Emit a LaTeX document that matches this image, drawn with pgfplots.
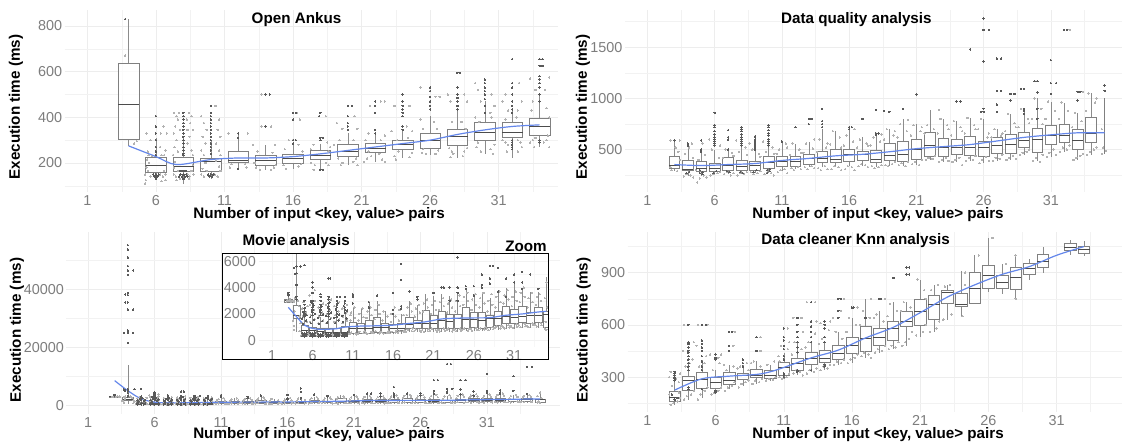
\documentclass[border=0pt]{standalone}
\usepackage{fontspec}
\setmainfont{Liberation Sans}
\usepackage{pgfplots}
\usepackage{pgfplotstable}
\pgfplotsset{compat=1.18}
\usepgfplotslibrary{statistics}
\definecolor{smoothc}{RGB}{100,135,235}
\definecolor{tickc}{RGB}{125,125,125}
\newcommand\bx[6]{\addplot[boxst,boxplot prepared={draw direction=y,draw position=#1,lower whisker=#2,lower quartile=#3,median=#4,upper quartile=#5,upper whisker=#6}] coordinates {};}
\pgfplotsset{
 boxst/.style={draw=black!50,line width=.5pt},
 panel/.style={scale only axis,grid=both,every axis title shift=0pt,
  major grid style={black!7,line width=.5pt},minor grid style={black!5,line width=.4pt},
  axis line style={draw=none},tick style={draw=none},
  xtick={1,6,11,16,21,26,31},minor xtick={3.5,8.5,13.5,18.5,23.5,28.5,33.5},
  tick label style={font=\fontsize{14.4}{15}\selectfont,text=tickc},
  /pgf/number format/assume math mode=true,/pgf/number format/1000 sep={},
  scaled y ticks=false,
  xticklabel style={yshift=0pt},yticklabel style={xshift=1pt},
  boxplot/whisker extend=0,
  boxplot/every box/.style={draw=black!50,fill=white,fill opacity=.75},
  boxplot/every whisker/.style={draw=black!45},
  boxplot/every median/.style={draw=black!70,line width=.75pt},
  xlabel={Number of input <key, value> pairs},ylabel={Execution time (ms)},
  label style={font=\fontsize{15.2}{16}\bfseries\selectfont,text=black},
  title style={font=\fontsize{15.2}{16}\bfseries\selectfont,text=black}},
 lt/.style={only marks,color=black!30,mark=*,mark size=.7pt,mark options={solid,line width=0pt}},
 dk/.style={only marks,color=black!65,mark=*,mark size=.7pt,mark options={solid,line width=0pt}},
 sm/.style={smooth,smoothc,line width=1.2pt}
}
\pgfplotstableread[row sep=\\]{x y\\
3.7 2950\\3.8 3100\\2.8 2950\\3.1 3000\\3.3 2900\\2.9 3050\\3.2 3150\\3.4 3000\\
3.6 1500\\3.7 1100\\3.8 2200\\4.3 2600\\4.4 1800\\4.5 1300\\3.7 800\\4.4 700\\4.2 3000\\3.8 3200\\
4.6 400\\4.8 500\\5.2 450\\5.4 550\\4.7 1300\\5.3 1400\\4.8 1800\\5.2 2100\\4.7 2400\\5.4 2600\\5 300\\5.3 350\\4.6 350\\5.4 400\\4.9 2900\\
5.6 420\\5.8 380\\6.3 450\\6.4 520\\5.7 1400\\6.3 1600\\5.8 1900\\6.2 2300\\5.7 2700\\6.3 3000\\6.4 330\\6.2 370\\5.9 340\\5.6 3400\\6.3 3800\\
6.6 350\\6.8 420\\7.2 380\\7.4 500\\6.7 1300\\7.3 1500\\6.8 1800\\7.2 2100\\6.7 2500\\7.3 2800\\7.1 340\\6.9 310\\7.4 410\\
7.6 400\\7.8 460\\8.3 380\\8.4 340\\7.7 1300\\8.3 1700\\7.8 2000\\8.2 2300\\7.7 2700\\8.3 3100\\8.1 330\\7.9 360\\8.4 520\\
8.6 370\\8.8 420\\9.3 360\\9.4 480\\8.7 1400\\9.3 1600\\8.8 1900\\9.2 2200\\8.7 2600\\9.3 2900\\9.1 330\\8.9 350\\9.4 410\\
9.6 420\\9.8 370\\10.3 390\\10.4 500\\9.7 1300\\10.3 1500\\9.8 1800\\10.2 2100\\9.7 2400\\10.3 2700\\10.1 350\\9.9 330\\
10.6 500\\10.8 600\\11.3 520\\11.4 450\\10.7 1500\\11.3 1700\\10.8 2100\\11.2 2500\\10.7 1900\\
11.6 500\\11.8 650\\12.3 540\\12.4 700\\11.7 1500\\12.3 1750\\11.8 2000\\12.2 2400\\
12.6 600\\12.8 500\\13.3 650\\13.4 550\\12.7 1700\\13.3 1900\\12.8 2200\\13.2 2500\\
13.6 550\\13.8 700\\14.3 520\\14.4 640\\13.7 1600\\14.3 2000\\13.8 2300\\14.2 2700\\
14.6 620\\14.8 500\\15.3 560\\15.4 700\\14.7 1500\\15.3 1800\\14.8 2200\\
15.6 540\\15.8 650\\16.3 580\\16.4 720\\15.7 1400\\16.3 1800\\15.8 2000\\16.2 2500\\
16.6 600\\16.8 700\\17.3 640\\17.4 760\\16.7 1500\\17.3 1900\\16.8 2300\\
17.6 650\\17.8 800\\18.3 700\\18.4 900\\17.7 1900\\18.3 2200\\17.8 2500\\18.2 2800\\
18.6 700\\18.8 820\\19.3 760\\19.4 640\\18.7 1800\\19.3 2100\\18.8 2400\\19.2 2700\\
19.6 780\\19.8 650\\20.3 700\\20.4 850\\19.7 2200\\20.3 2500\\19.8 2800\\20.2 3100\\
20.6 720\\20.8 880\\21.3 780\\21.4 650\\20.7 2000\\21.3 2300\\20.8 2700\\21.2 3000\\
21.6 800\\21.8 680\\22.3 900\\22.4 740\\21.7 2300\\22.3 2600\\21.8 2900\\22.2 3200\\
22.6 760\\22.8 880\\23.3 680\\23.4 800\\22.7 2100\\23.3 2500\\22.8 2800\\23.2 3100\\
23.6 820\\23.8 700\\24.3 900\\24.4 740\\23.7 2200\\24.3 2600\\23.8 3000\\24.2 3400\\
24.6 800\\24.8 900\\25.3 720\\25.4 850\\24.7 2700\\25.3 3000\\24.8 3300\\25.2 3600\\
25.6 860\\25.8 720\\26.3 950\\26.4 800\\25.7 2300\\26.3 2700\\25.8 3100\\26.2 3500\\
26.6 760\\26.8 900\\27.3 820\\27.4 1000\\26.7 2500\\27.3 2800\\26.8 3200\\27.2 3600\\
27.6 900\\27.8 780\\28.3 1000\\28.4 840\\27.7 2200\\28.3 2700\\27.8 3000\\28.2 3500\\
28.6 940\\28.8 1050\\29.3 880\\29.4 1100\\28.7 2500\\29.3 2900\\28.8 3300\\29.2 3700\\
29.6 1050\\29.8 900\\30.3 1150\\30.4 980\\29.7 2800\\30.3 3100\\29.8 3400\\30.2 3800\\
30.6 1100\\30.8 950\\31.3 1200\\31.4 1020\\30.7 2600\\31.3 3000\\30.8 3300\\31.2 3700\\
31.6 1150\\31.8 1000\\32.3 1250\\32.4 1080\\31.7 2900\\32.3 3300\\31.8 3600\\32.2 4000\\
32.6 1100\\32.8 1000\\33.3 1280\\33.4 1150\\32.7 2500\\33.3 2900\\32.8 3200\\33.2 3600\\
33.6 1200\\33.8 1050\\34.3 1300\\34.4 1150\\33.7 2700\\34.3 3000\\33.8 3300\\34.2 3500\\
34.8 900\\35 800\\34.9 1400\\35.1 2500\\34.8 3200\\35 4400\\
}\movieL
\pgfplotstableread[row sep=\\]{x y\\
3 3600\\3 3500\\3 3400\\
4 55200\\4 53700\\4 51000\\4 48000\\4 46500\\4 45000\\4.4 46500\\3.8 38200\\4 38800\\4 38000\\4 35500\\3.8 35500\\4 33000\\4.4 33000\\4 25800\\4 25000\\4.4 25000\\3.7 25000\\4 21500\\
4 5600\\3.7 5500\\4 5100\\3.8 5050\\4.5 5600\\4 4200\\4 3300\\4 3100\\
5 5700\\5 3000\\5 2700\\5 2400\\5 2200\\5 2000\\5 1900\\5 1800\\
5 300\\5 400\\5 450\\5 500\\5 550\\4.7 320\\5.2 330\\4.8 430\\5.3 460\\4.7 550\\5.3 620\\
4.8 1250\\5.2 1500\\4.7 1650\\5.3 1900\\4.9 2150\\5.1 2450\\
6 4400\\6 4000\\6 3600\\6 3000\\6 2800\\6 2500\\6 2300\\6 2100\\6 1900\\
6 300\\6 380\\6 450\\6 520\\5.7 320\\6.3 340\\5.8 420\\6.2 470\\5.7 550\\6.3 600\\
5.8 1300\\6.2 1550\\5.7 1750\\6.3 2000\\5.9 2250\\6.1 2650\\5.8 2950\\
7 3500\\7 3300\\7 3000\\7 2700\\7 2500\\7 2300\\7 2100\\7 1900\\
7 280\\7 340\\7 400\\7 460\\6.7 300\\7.3 330\\6.8 390\\7.2 430\\6.7 500\\7.3 560\\
6.8 1250\\7.2 1450\\6.7 1700\\7.3 1950\\6.9 2200\\7.1 2600\\
8 4700\\8.2 4700\\8 3300\\8 3100\\8 2800\\8 2600\\8 2400\\8 2200\\8 2000\\8 1800\\
8 280\\8 350\\8 410\\8 470\\7.7 300\\8.3 320\\7.8 380\\8.2 420\\7.7 500\\8.3 570\\
7.8 1350\\8.2 1600\\7.7 1850\\8.3 2100\\7.9 2500\\8.1 2900\\
9 3300\\9 3000\\9 2700\\9 2500\\9 2200\\9 2000\\9 1800\\9.4 3300\\
9 290\\9 360\\9 420\\9 480\\8.7 310\\9.3 330\\8.8 400\\9.2 440\\8.7 510\\9.3 560\\
8.8 1300\\9.2 1500\\8.7 1700\\9.3 1950\\8.9 2350\\9.1 2800\\
10 3300\\10 3000\\10 2800\\10 2500\\10 2300\\10 2100\\
10 300\\10 370\\10 430\\10 500\\9.7 330\\10.3 350\\9.8 410\\10.2 460\\9.7 520\\10.3 580\\
9.8 1400\\10.2 1650\\9.7 1850\\10.3 2250\\9.9 2600\\
11 3500\\11 3400\\11 3300\\11 2800\\13 2900\\13 2500\\14 3400\\16 3600\\16 2300\\16 2000\\
17 5800\\17 4600\\17 2600\\17 2400\\18 3700\\19 3300\\19 3100\\21 3600\\22 4000\\22.3 4000\\23 4000\\23 3000\\
24 6300\\24 4000\\24 3600\\24 3000\\25 4100\\25 3900\\26 4100\\26 3400\\27 8700\\27.3 8700\\27 5000\\27 4200\\27 4000\\
28 14200\\28.3 14200\\28 5650\\28.4 5650\\28 4700\\28 4300\\29 8700\\29.4 8700\\29 3700\\29 5500\\
30 4700\\30 3300\\31 10800\\31 5000\\31 4400\\32 5200\\32 4400\\32 3900\\33 10000\\33 5000\\34 13300\\34.4 13300\\34 3900\\
}\movieD
\newcommand\movieboxes{%
\bx{3}{2800}{2900}{3000}{3100}{3600}
\bx{4}{600}{1650}{1900}{2650}{13800}
\bx{5}{350}{557}{760}{1140}{2000}
\bx{6}{350}{506}{760}{1010}{1900}
\bx{7}{320}{430}{680}{940}{1800}
\bx{8}{320}{430}{630}{940}{1800}
\bx{9}{320}{430}{630}{940}{1800}
\bx{10}{330}{506}{630}{1090}{2000}
\bx{11}{400}{560}{940}{1390}{2500}
\bx{12}{450}{560}{890}{1320}{2400}
\bx{13}{450}{560}{890}{1520}{2800}
\bx{14}{450}{630}{1010}{1770}{3000}
\bx{15}{450}{630}{1010}{1270}{2200}
\bx{16}{450}{630}{940}{1190}{1900}
\bx{17}{500}{760}{940}{1270}{2000}
\bx{18}{600}{890}{1190}{1770}{3000}
\bx{19}{600}{890}{1270}{1520}{2700}
\bx{20}{600}{890}{1320}{2280}{3500}
\bx{21}{600}{890}{1270}{1900}{3400}
\bx{22}{650}{940}{1520}{2200}{3500}
\bx{23}{650}{940}{1440}{1950}{3400}
\bx{24}{650}{890}{1650}{1950}{3500}
\bx{25}{700}{890}{1600}{2530}{3800}
\bx{26}{700}{1010}{1600}{2100}{3400}
\bx{27}{700}{940}{1520}{2150}{3700}
\bx{28}{750}{1010}{1650}{1900}{3200}
\bx{29}{800}{1140}{1650}{2200}{3600}
\bx{30}{850}{1270}{1850}{2580}{4000}
\bx{31}{850}{1270}{1770}{2330}{4300}
\bx{32}{900}{1390}{1820}{2600}{3800}
\bx{33}{900}{1270}{1900}{2150}{3700}
\bx{34}{950}{1400}{1900}{2500}{3700}
\bx{35}{900}{1000}{2000}{2200}{4800}
}
\begin{document}
\begin{tikzpicture}
\path[use as bounding box] (0pt,0pt) rectangle (1126pt,444pt);
% ---------- Open Ankus
\begin{axis}[panel,at={(64.6pt,252pt)},width=493.4pt,height=182pt,
 xmin=-.67,xmax=35.34,ymin=73,ymax=870,ytick={200,400,600,800},minor ytick={100,300,500,700},
 boxplot/box extend=1.5,title={Open Ankus},
 title style={at={(axis description cs:.47,.95)},anchor=center},
 xlabel style={at={(axis description cs:.5156,-.125)},anchor=center},
 ylabel style={at={(axis description cs:-.0985,.467)},anchor=center}]
\addplot[lt] coordinates {(3.75,670)(4.6,295)(4.4,285)
(5.2,150)(5.4,165)(5.6,140)(5.3,180)(5.5,200)(5.25,125)(5.7,230)(5.45,235)(6.4,235)(6.6,235)(6.7,255)(6.3,270)(5.6,300)(6.35,330)(6.55,360)(5.4,250)(5.35,215)(6.7,150)(6.5,140)(6.3,150)(6.6,165)(6.7,125)(5.2,110)(6.4,120)(5.3,330)(6.8,330)
(7.3,420)(7.5,405)(7.6,390)(7.4,360)(7.3,330)(7.5,300)(7.35,270)(7.6,250)(7.25,235)(8.4,420)(8.6,405)(8.5,375)(8.7,345)(8.45,315)(8.3,285)(8.6,255)(8.7,235)(7.3,150)(7.45,140)(7.6,165)(7.75,130)(8.3,150)(8.45,140)(8.6,165)(8.75,150)(7.5,125)(8.4,130)(7.3,180)(8.7,190)(7.4,205)(7.7,420)(7.75,345)(8.25,390)(8.3,345)
(9.3,405)(9.5,375)(9.7,345)(9.4,315)(9.6,285)(9.3,255)(9.5,235)(10.35,450)(10.6,390)(10.5,345)(10.7,315)(10.4,285)(10.6,255)(10.7,235)(9.3,150)(9.5,140)(9.7,165)(10.3,150)(10.5,140)(10.7,165)(9.4,175)(10.6,185)(9.6,200)(10.4,210)
(11.3,330)(12.7,330)(11.4,180)(11.5,195)(12.5,195)(12.6,180)
(13.1,280)(13.7,500)(14.4,360)(14.7,280)(13.4,250)(14.5,245)(13.3,180)(13.6,170)(14.4,170)(14.6,180)(13.7,360)(13.2,200)(14.75,190)
(15.4,260)(15.7,300)(16.5,390)(16.4,280)(16.7,250)(15.3,190)(15.5,175)(16.4,185)(16.6,195)(16.3,420)
(17.3,260)(17.5,280)(18.5,290)(18.7,270)(18.4,405)(18.6,250)(17.3,200)(17.6,190)(18.4,200)(18.6,190)(17.5,170)(19,280)
(19.2,375)(19.6,350)(20.5,405)(20.7,350)(19.4,300)(20.4,300)(19.3,220)(19.6,200)(20.4,205)(20.6,220)(19.5,190)(20.7,190)
(21.3,300)(21.5,330)(22.4,470)(22.7,470)(21.6,450)(22.4,300)(22.7,320)(21.4,220)(21.7,230)(22.5,215)(22.3,240)(21.2,205)(22.7,205)(21.5,250)
(23.2,340)(23.4,450)(23.6,300)(24.4,310)(24.7,340)(24.5,450)(24.3,360)(23.4,230)(23.7,250)(24.5,225)(24.7,245)(23.5,215)
(25.3,390)(25.5,350)(26.4,490)(26.7,490)(25.3,530)(26.5,350)(26.3,380)(25.4,245)(25.7,240)(26.4,240)(26.6,255)(25.5,260)
(27.3,500)(27.5,470)(27.6,380)(28.5,500)(28.7,470)(28.3,380)(28.6,350)(27.4,265)(27.6,250)(28.5,250)(28.7,265)(27.5,225)(27.7,240)(28.4,230)
(29.3,550)(29.5,520)(29.7,470)(30.5,500)(30.7,450)(30.4,420)(29.3,400)(29.6,380)(30.5,400)(29.4,270)(29.7,250)(30.4,260)(30.6,240)(29.5,290)(30.7,280)
(31.3,470)(31.5,500)(31.7,430)(32.5,550)(32.7,470)(32.4,430)(32.3,400)(31.5,390)(31.3,300)(31.5,290)(31.7,280)(32.4,300)(32.6,290)(32.7,270)(31.6,250)(32.4,250)
(33.3,570)(33.5,470)(33.7,520)(34.4,520)(34.7,575)(34.5,440)(34.7,400)(33.4,430)(33.5,300)(33.3,290)(33.6,270)(34.3,290)(34.5,300)(34.7,270)(33.7,310)(34.6,320)};
\addplot[dk] coordinates {(3.75,830)(6,405)(6,360)(6,330)(6,300)(6,270)(6,250)(6,235)(5.8,150)(6,150)(6.2,150)(5.9,140)(6.1,140)(6,130)
(8,420)(8,405)(8,390)(8,375)(8,360)(8,345)(8,330)(8,315)(8,300)(8,285)(8,270)(8,255)(8,240)(8,235)(7.8,150)(8,150)(8.2,150)(7.7,140)(7.9,140)(8.1,140)(8.3,140)(8,130)(7.8,165)(8,165)(8.2,165)
(10,450)(10,420)(10,405)(10,390)(10,375)(10,360)(10,345)(10,330)(10,315)(10,300)(10,285)(10,270)(10,255)(10,240)(9.8,150)(10,150)(10.2,150)(9.9,140)(10.1,140)
(12,330)(12,310)(12,175)(14,500)(14.3,500)(14,360)(16,420)(16.2,420)(16,390)(16,300)(16.2,300)(16,285)(18,420)(17.9,405)(18,310)(18.2,310)(18,300)(18,170)(18.2,170)
(20,450)(20.3,450)(20,405)(20,375)(20,360)(20,345)(22,470)(22,450)(22,420)(22,345)(22,330)(24,500)(24,470)(24,450)(24,435)(24,420)(24,405)(24,360)(24,345)
(26,530)(26,515)(26,490)(26,470)(26,450)(26,435)(28,595)(28.2,595)(28,530)(28,500)(28,485)(28,470)(28,450)(28,435)
(30,565)(30,550)(30,530)(30,515)(30,500)(30,480)(30,450)(30,420)(32,655)(32,550)(32,530)(32,500)(32,470)(32,450)(32,435)(32,420)(32,300)(32,290)(32,280)(32,270)(32,260)
(34,655)(34.2,655)(34,625)(34.2,625)(34,580)(34,565)(34,550)(34,530)(34,500)(34,470)(34,300)(34,290)};
\bx{4}{275}{305}{455}{635}{830}
\bx{6}{130}{160}{190}{225}{310}
\bx{8}{110}{165}{185}{225}{310}
\bx{10}{130}{165}{205}{220}{300}
\bx{12}{175}{205}{210}{250}{330}
\bx{14}{170}{190}{210}{235}{280}
\bx{16}{175}{200}{220}{240}{290}
\bx{18}{170}{216}{235}{257}{285}
\bx{20}{190}{228}{250}{283}{330}
\bx{22}{205}{245}{265}{286}{330}
\bx{24}{220}{261}{280}{300}{345}
\bx{26}{235}{264}{300}{330}{405}
\bx{28}{220}{279}{315}{347}{430}
\bx{30}{240}{298}{335}{378}{470}
\bx{32}{220}{312}{335}{378}{430}
\bx{34}{270}{320}{360}{394}{500}
\addplot[sm] coordinates {(4,275)(6,228)(7.5,193)(10,215)(12,222)(14,222)(16,228)(18,240)(20,255)(22,270)(24,285)(26,300)(28,325)(30,345)(32,360)(34,367)};
\end{axis}
% ---------- Data quality
\begin{axis}[panel,at={(625pt,252pt)},width=497pt,height=182pt,
 xmin=-.67,xmax=36.3,ymin=87,ymax=1864,ytick={500,1000,1500},minor ytick={250,750,1250,1750},
 boxplot/box extend=.8,title={Data quality analysis},
 title style={at={(axis description cs:.4656,.95)},anchor=center},
 xlabel style={at={(axis description cs:.509,-.125)},anchor=center},
 ylabel style={at={(axis description cs:-.0845,.467)},anchor=center}]
\addplot[lt] coordinates {(2.7,590)(3.4,590)(2.8,300)(3.2,290)(3.3,480)(2.7,330)(3.1,520)(3.4,400)
(3.7,240)(3.9,260)(4.2,250)(4.4,230)(3.8,460)(4.3,560)(4.1,520)(4.4,420)
(4.7,180)(4.9,220)(5.2,250)(5.4,230)(4.8,400)(5.3,450)(5.1,560)(4.6,300)
(5.7,250)(5.9,260)(6.2,270)(6.4,280)(5.8,500)(6.3,420)(5.6,600)(6.4,540)
(6.7,260)(6.9,280)(7.2,250)(7.4,270)(6.8,500)(7.3,470)(6.6,420)(7.4,440)
(7.7,250)(7.9,270)(8.2,260)(8.4,280)(7.8,480)(8.3,520)(7.6,590)(8.4,450)
(8.7,280)(8.9,260)(9.2,270)(9.4,290)(8.8,500)(9.3,460)(8.6,560)(9.4,430)
(9.7,260)(9.9,280)(10.2,270)(10.4,250)(9.8,480)(10.3,520)(9.6,580)(10.4,460)
(10.7,280)(10.9,300)(11.2,310)(11.4,270)(10.8,500)(11.3,560)(10.6,460)(11.4,520)
(11.7,320)(11.9,300)(12.2,330)(12.4,310)(11.8,560)(12.3,500)(11.6,450)(12.4,470)
(12.7,330)(12.9,310)(13.2,340)(13.4,320)(12.8,560)(13.3,510)(12.6,470)(13.4,600)
(13.7,320)(13.9,300)(14.2,340)(14.4,310)(13.8,600)(14.3,520)(13.6,480)(14.4,560)
(14.7,310)(14.9,340)(15.2,330)(15.4,300)(14.8,680)(15.3,620)(14.6,550)(15.4,520)
(15.7,310)(15.9,340)(16.2,330)(16.4,300)(15.8,640)(16.3,580)(15.6,540)(16.4,700)
(16.7,340)(16.9,360)(17.2,350)(17.4,330)(16.8,600)(17.3,560)(16.6,520)(17.4,540)
(17.7,340)(17.9,320)(18.2,330)(18.4,350)(17.8,620)(18.3,580)(17.6,540)(18.4,650)
(18.7,350)(18.9,340)(19.2,360)(19.4,380)(18.8,700)(19.3,640)(18.6,600)(19.4,680)
(19.7,350)(19.9,370)(20.2,340)(20.4,380)(19.8,750)(20.3,680)(19.6,620)(20.4,790)
(20.7,360)(20.9,380)(21.2,350)(21.4,400)(20.8,740)(21.3,680)(20.6,640)(21.4,720)
(21.7,400)(21.9,420)(22.2,410)(22.4,440)(21.8,740)(22.3,700)(21.6,660)(22.7,890)
(22.7,380)(22.9,400)(23.2,420)(23.4,390)(22.8,800)(23.3,740)(22.6,660)(23.4,700)
(23.7,380)(23.9,400)(24.2,420)(24.4,350)(23.8,780)(24.3,720)(23.6,640)(24.4,680)
(24.7,390)(24.9,420)(25.2,400)(25.4,440)(24.8,810)(25.3,740)(24.6,660)(25.4,700)
(25.7,370)(25.9,400)(26.2,430)(26.4,390)(25.8,800)(26.3,620)(25.6,700)(26.4,660)
(26.7,390)(26.9,420)(27.2,410)(27.4,450)(26.8,700)(27.3,640)(26.6,620)(27.4,660)
(27.7,400)(27.9,420)(28.2,440)(28.4,410)(27.8,850)(28.3,760)(27.6,680)(28.4,720)
(28.7,450)(28.9,470)(29.2,480)(29.4,500)(28.8,900)(29.3,800)(28.6,720)(29.4,760)
(29.7,390)(29.9,420)(30.2,380)(30.4,450)(29.8,1000)(30.3,900)(29.6,800)(30.4,750)
(30.7,430)(30.9,470)(31.2,500)(31.4,450)(30.8,970)(31.3,880)(30.6,800)(31.4,1150)
(31.7,480)(31.9,520)(32.2,500)(32.4,540)(31.8,960)(32.3,880)(31.6,800)(32.4,1670)
(32.7,400)(32.9,420)(33.2,440)(33.4,460)(32.8,860)(33.3,780)(32.6,720)(33.4,1065)
(33.7,450)(33.9,480)(34.2,500)(34.4,520)(33.8,1050)(34.3,960)(33.6,880)(34.4,1000)
(34.8,460)(34.9,520)(35.1,490)(34.8,700)};
\addplot[dk] coordinates {(3,590)(4,560)(4,540)(5,590)(5,500)(5,480)(6,860)(6,740)(6,720)(6,680)(6,650)(6,620)(6,600)(6,580)(6,560)(6,540)
(7,690)(7,620)(7,600)(7,500)(8,720)(8,700)(8,680)(8,650)(8,620)(8,600)(8,580)(8,560)(8,540)
(9,630)(9,600)(9,580)(9,560)(9,540)(9,520)(9,500)(10,740)(10,720)(10,690)(10,660)(10,640)(10,600)(10,580)(10,560)(10,540)
(11,580)(12,720)(13,800)(13.2,800)(13,750)(14,900)(14,780)(14,750)(14,720)(16,720)(16.2,720)(16,700)(17,800)(18,890)(18.6,880)(18,660)(18.2,660)(18,650)(19,870)(20,900)(21,1040)
(24,970)(24.3,970)(25,1480)(26,1780)(26,1670)(26.4,1670)(26,1360)(26,900)(25.8,870)(26,870)(27,1390)(27.3,1390)(27,1075)(27.3,1075)(27,940)(27,870)
(28,1045)(28.3,1045)(28,980)(29,1095)(28.8,1095)(29,900)(29,880)(29,850)(30,1170)(29.8,1170)(30,1060)(30,900)(30,800)
(31,1375)(31,1150)(31,1045)(31.4,1150)(32,1670)(32.2,1670)(33,1065)(33.2,1065)(33,980)(35,1125)(35,1075)
(3.9,270)(4.1,280)(4.9,270)(5.1,280)(5.9,270)(6.1,290)(6.9,290)(7.1,280)(7.9,280)(8.1,270)(8.9,280)(9.1,300)(9.9,270)(10.1,290)(9.9,300)(10.1,310)(4.9,300)(5.1,260)};
\bx{3}{290}{318}{350}{432}{590}
\bx{4}{240}{300}{310}{400}{560}
\bx{5}{240}{285}{320}{383}{500}
\bx{6}{250}{285}{320}{367}{500}
\bx{7}{260}{295}{345}{430}{500}
\bx{8}{260}{300}{340}{400}{560}
\bx{9}{270}{300}{345}{390}{520}
\bx{10}{270}{318}{375}{440}{580}
\bx{11}{290}{334}{390}{432}{580}
\bx{12}{310}{334}{390}{440}{560}
\bx{13}{330}{357}{415}{458}{580}
\bx{14}{330}{380}{420}{480}{700}
\bx{15}{330}{380}{410}{503}{680}
\bx{16}{340}{383}{450}{503}{700}
\bx{17}{340}{400}{450}{487}{620}
\bx{18}{330}{373}{410}{490}{650}
\bx{19}{340}{393}{445}{562}{700}
\bx{20}{340}{389}{455}{581}{800}
\bx{21}{350}{409}{505}{604}{750}
\bx{22}{400}{432}{545}{666}{890}
\bx{23}{380}{438}{520}{611}{800}
\bx{24}{380}{454}{520}{601}{780}
\bx{25}{390}{448}{520}{633}{810}
\bx{26}{370}{432}{520}{585}{800}
\bx{27}{390}{464}{540}{620}{700}
\bx{28}{400}{461}{550}{646}{850}
\bx{29}{450}{520}{590}{666}{900}
\bx{30}{390}{471}{600}{708}{1000}
\bx{31}{430}{549}{640}{738}{970}
\bx{32}{480}{568}{640}{750}{960}
\bx{33}{400}{506}{590}{698}{860}
\bx{34}{450}{568}{660}{816}{1050}
\addplot[black!50,line width=.5pt] coordinates {(35,460)(35,1000)};
\addplot[sm] coordinates {(3,355)(5,345)(7,355)(9,365)(11,395)(13,415)(15,440)(17,455)(19,480)(21,510)(23,530)(25,550)(27,585)(29,620)(31,645)(33,665)(35,665)};
\end{axis}
% ---------- Movie analysis
\begin{axis}[panel,at={(66.4pt,30.3pt)},width=493.6pt,height=181.7pt,
 xmin=-.63,xmax=36.5,ymin=-2900,ymax=59760,ytick={0,20000,40000},minor ytick={10000,30000,50000},
 boxplot/box extend=.8,title={Movie analysis},
 title style={at={(axis description cs:.4656,.95)},anchor=center},
 xlabel style={at={(axis description cs:.5117,-.115)},anchor=center},
 ylabel style={at={(axis description cs:-.1,.46)},anchor=center}]
\addplot[lt] table {\movieL};
\addplot[dk] table {\movieD};
\movieboxes
\addplot[sm] coordinates {(3,8500)(4,5000)(5,2200)(6,1100)(7,800)(8,840)(9,880)(10,1000)(12,1080)(14,1100)(16,1150)(18,1280)(20,1400)(22,1620)(24,1680)(26,1700)(28,1720)(30,1900)(32,2000)(34,2150)(35,2200)};
\end{axis}
\fill[white] (222.6pt,84.7pt) rectangle (548.6pt,190.3pt);
\begin{axis}[panel,at={(258.5pt,97pt)},width=289.5pt,height=93pt,
 xmin=-.7,xmax=35.2,ymin=-510,ymax=6553,ytick={0,2000,4000,6000},minor ytick={1000,3000,5000},
 boxplot/box extend=.9,xlabel={},ylabel={},
 major grid style={black!5,line width=.4pt},minor grid style={black!3,line width=.3pt}]
\addplot[lt] table {\movieL};
\addplot[dk] table {\movieD};
\movieboxes
\addplot[sm] coordinates {(3,2500)(4,1800)(5,1150)(6,900)(7,830)(8,840)(9,880)(10,1000)(12,1080)(14,1100)(16,1150)(18,1280)(20,1400)(22,1620)(24,1680)(26,1700)(28,1720)(30,1900)(32,2000)(34,2150)(35,2200)};
\end{axis}
\draw[black,line width=.9pt] (222.6pt,84.7pt) rectangle (548.6pt,190.3pt);
\node[font=\fontsize{15.2}{16}\bfseries\selectfont] at (526pt,198pt) {Zoom};
% ---------- Knn
\begin{axis}[panel,at={(627.6pt,32pt)},width=494.4pt,height=180pt,
 xmin=-.45,xmax=35.8,ymin=99,ymax=1134,ytick={300,600,900},minor ytick={150,450,750,1050},
 boxplot/box extend=.85,title={Data cleaner Knn analysis},
 title style={at={(axis description cs:.461,.95)},anchor=center},
 xlabel style={at={(axis description cs:.5065,-.125)},anchor=center},
 ylabel style={at={(axis description cs:-.0886,.455)},anchor=center}]
\addplot[lt] coordinates {(2.7,140)(2.9,150)(3.2,160)(3.4,180)(2.8,250)(3.3,270)(2.6,300)(3.4,320)(2.7,330)(3.1,290)(3.3,210)(2.6,200)
(3.7,170)(3.9,190)(4.2,200)(4.4,220)(3.8,360)(4.3,400)(3.6,450)(4.4,500)(3.7,600)(4.1,380)
(4.7,170)(4.9,200)(5.2,220)(5.4,240)(4.8,360)(5.3,420)(4.6,480)(5.4,600)(4.7,600)(5.2,380)
(5.7,200)(5.9,210)(6.2,220)(6.4,240)(5.8,340)(6.3,380)(5.6,430)(6.4,430)(6.2,410)
(6.7,220)(6.9,240)(7.2,250)(7.4,270)(6.8,340)(7.3,360)(6.6,370)(7.4,560)(7.3,480)
(7.7,240)(7.9,260)(8.2,270)(8.4,280)(7.8,360)(8.3,380)(7.6,350)(8.4,340)
(8.7,260)(8.9,280)(9.2,270)(9.4,290)(8.8,390)(9.3,360)(8.6,380)(9.3,530)(9.3,450)
(9.7,280)(9.9,290)(10.2,285)(10.4,300)(9.8,370)(10.3,390)
(10.7,300)(10.9,290)(11.2,300)(11.4,320)(10.8,480)(11.3,460)(10.6,420)(11.4,500)(10.7,390)(11.3,580)
(11.7,320)(11.9,340)(12.2,330)(12.4,310)(11.8,500)(12.3,460)(11.6,430)(12.4,560)(11.7,640)(12.3,640)
(12.7,320)(12.9,340)(13.2,330)(13.4,350)(12.8,500)(13.3,550)(12.6,470)(13.4,620)(12.7,730)(13.3,730)
(13.7,340)(13.9,360)(14.2,350)(14.4,370)(13.8,520)(14.3,570)(13.6,490)(14.4,620)(13.7,610)
(14.7,370)(14.9,390)(15.2,380)(15.4,400)(14.8,560)(15.3,520)(14.6,640)(15.4,750)(15.2,680)
(15.7,380)(15.9,400)(16.2,410)(16.4,430)(15.8,640)(16.3,600)(15.6,560)(16.4,700)
(16.7,420)(16.9,440)(17.2,430)(17.4,410)(16.8,680)(17.3,640)(16.6,600)(17.4,750)
(17.7,440)(17.9,460)(18.2,450)(18.4,480)(17.8,660)(18.3,620)(17.6,640)(18.4,750)
(18.7,460)(18.9,480)(19.2,470)(19.4,500)(18.8,720)(19.3,680)(18.6,650)
(19.7,480)(19.9,500)(20.2,520)(20.4,560)(19.8,730)(20.3,700)(19.6,680)
(20.7,540)(21.2,560)(21.4,600)(20.8,860)(21.3,800)(21.4,750)
(21.7,560)(22.2,580)(22.4,620)(21.8,800)(22.3,830)
(22.7,630)(23.3,660)(23.2,830)(22.8,820)
(24.3,900)(24.1,650)(24.3,830)(25.3,1000)(26.3,1100)(27.3,950)(28,1000)(28,750)};
\addplot[dk] coordinates {(3,330)(3,320)(3,310)(3,300)(3,290)(3,280)(4,600)(4,500)(4,490)(4,470)(4,450)(4,440)(4,420)(4,400)(4,380)(4,360)(4,340)
(5,600)(5.3,600)(5,510)(5,490)(5,470)(5,450)(5,420)(5,390)(5,360)(5,340)(6,430)(6,410)(6,400)(7,560)(7.2,560)(7,480)(7,450)(8,400)(8,380)(8,360)
(9,530)(9,450)(11,580)(11,530)(11,510)(11,480)(11,460)(11,420)(11,400)(12,640)(12,600)(12,560)(12,530)(12,500)(12,470)(12,440)(13,730)(13,620)(13,590)(13,560)(13,530)(13,500)(14,620)(14,600)(14,580)(14,530)(14,500)
(15,750)(15.2,750)(15,680)(15,640)(16,700)(16.1,700)(17,640)(18,750)(18.1,750)(19,870)(19.1,870)(20,930)(20.2,930)(20,890)(20.2,890)
(2.8,200)(3,170)(3.2,180)(4,230)(4,240)(5,230)(6,210)(6,220)(11,300)(11,310)(11,320)(12,330)(12,340)(13,340)(14,360)(14,370)};
\bx{3}{140}{162}{185}{220}{330}
\bx{4}{170}{223}{279}{306}{380}
\bx{5}{180}{237}{287}{329}{400}
\bx{6}{200}{233}{272}{300}{340}
\bx{7}{230}{256}{281}{325}{370}
\bx{8}{250}{287}{310}{323}{370}
\bx{9}{260}{296}{310}{344}{390}
\bx{10}{280}{294}{310}{338}{370}
\bx{11}{290}{310}{358}{386}{440}
\bx{12}{310}{338}{377}{409}{500}
\bx{13}{330}{371}{405}{444}{500}
\bx{14}{340}{386}{405}{453}{510}
\bx{15}{370}{405}{438}{482}{560}
\bx{16}{380}{434}{482}{530}{640}
\bx{17}{410}{450}{520}{591}{750}
\bx{18}{440}{482}{530}{578}{680}
\bx{19}{460}{511}{582}{620}{730}
\bx{20}{480}{591}{620}{678}{730}
\bx{21}{530}{597}{678}{745}{860}
\bx{22}{560}{635}{716}{773}{830}
\bx{23}{630}{725}{789}{798}{830}
\bx{24}{650}{706}{716}{779}{910}
\bx{25}{720}{725}{808}{904}{1000}
\bx{26}{790}{812}{885}{942}{1100}
\bx{27}{780}{812}{846}{888}{950}
\bx{28}{750}{804}{871}{932}{1000}
\bx{29}{860}{890}{923}{957}{980}
\bx{30}{900}{932}{967}{1005}{1050}
\bx{32}{1000}{1028}{1047}{1067}{1090}
\bx{33}{995}{1009}{1032}{1051}{1080}
\addplot[sm] coordinates {(3,225)(5,290)(7,305)(9,315)(10,330)(11,355)(13,410)(15,455)(17,525)(19,585)(21,670)(23,760)(25,830)(27,890)(29,935)(31,1000)(33,1050)};
\end{axis}
\end{tikzpicture}
\end{document}
